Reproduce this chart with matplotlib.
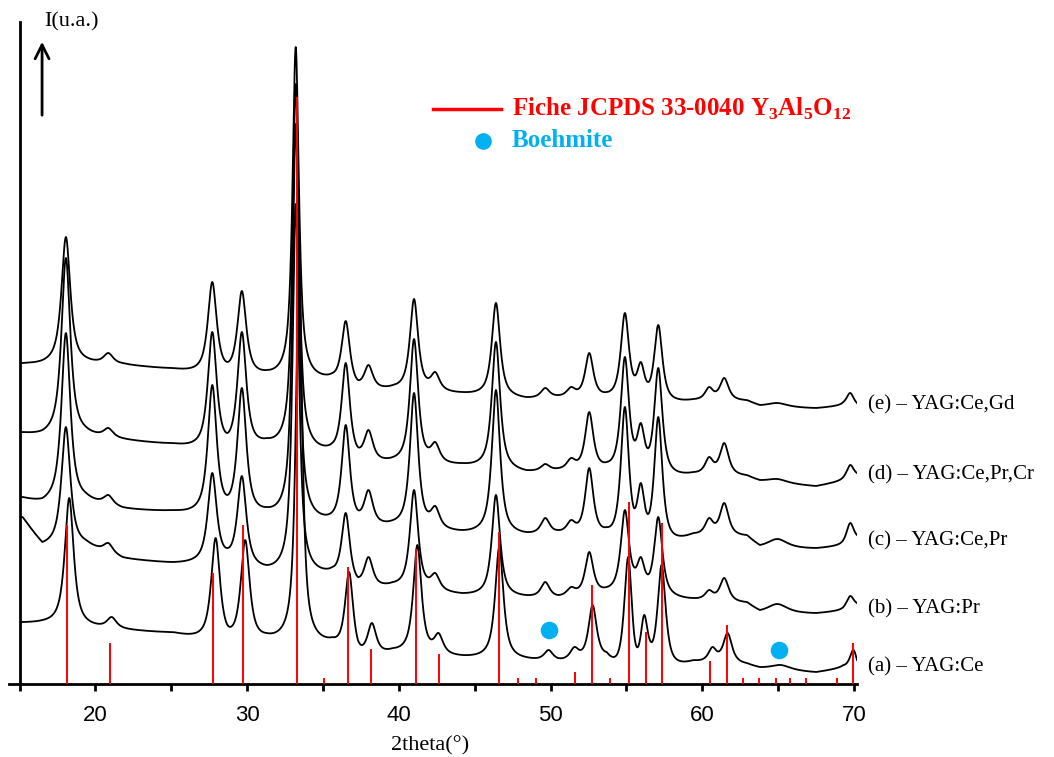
import matplotlib.pyplot as plt
import numpy as np
from matplotlib.ticker import MultipleLocator

# XRD patterns, intensities in arbitrary units (offset curves)
labels = ["(a) – YAG:Ce", "(b) – YAG:Pr", "(c) – YAG:Ce,Pr", "(d) – YAG:Ce,Pr,Cr", "(e) – YAG:Ce,Gd"]
shift = [0.22, 0.0, 0.0, 0.0, 0.0]

# background points (between peaks)
valley_x = [15.2, 16.5, 19.4, 21.8, 25.1, 28.7, 31.3, 35.6, 37.3, 39.6, 44.2, 48.4,
            50.5, 53.7, 55.5, 56.55, 59.4, 62.95, 63.8, 67.5, 69.3, 70.2]
valley_a = [62, 64, 66, 57, 52, 59, 51, 47, 44, 36, 29, 27, 26, 32, 51, 44, 24, 21, 17, 12, 19, 24]
valley_b = [167, 142, 144, 127, 122, 136, 119, 117, 107, 102, 91, 89, 89, 97, 117, 112, 86, 82, 74, 71, 77, 81]
valley_c = [187, 186, 191, 177, 174, 189, 177, 172, 174, 164, 154, 152, 154, 157, 176, 174, 151, 149, 139, 136, 144, 149]
valley_d = [252, 254, 257, 246, 241, 251, 246, 241, 237, 227, 221, 214, 216, 222, 244, 239, 212, 209, 204, 198, 207, 211]
valley_e = [321, 324, 327, 321, 316, 322, 314, 311, 304, 299, 292, 287, 289, 292, 309, 304, 285, 284, 279, 276, 282, 281]

# peak positions, widths and peak-top intensities
peak_x = [18.05, 20.85, 27.7, 29.65, 33.2, 36.5, 38.0, 41.0, 42.4, 46.4, 49.65, 51.35,
          52.55, 54.9, 55.95, 57.1, 60.45, 61.45, 64.95, 69.75]
peak_w = [0.7, 0.75, 0.7, 0.7, 0.5, 0.65, 0.7, 0.65, 0.7, 0.65, 0.7, 0.7,
          0.65, 0.65, 0.6, 0.65, 0.65, 0.7, 1.6, 0.6]
top_a = [186, 67, 146, 144, 426, 112, 61, 139, 51, 137, 34, 37, 79, 127, 69, 119, 37, 51, 19, 34]
top_b = [257, 141, 211, 208, 480, 171, 127, 194, 111, 189, 102, 97, 132, 174, 127, 167, 94, 106, 80, 88]
top_c = [351, 189, 299, 296, 560, 259, 194, 291, 178, 294, 166, 164, 216, 277, 201, 267, 166, 181, 145, 161]
top_d = [426, 256, 352, 352, 600, 321, 254, 345, 242, 342, 220, 226, 272, 327, 261, 316, 227, 241, 205, 219]
top_e = [447, 331, 402, 393, 637, 363, 319, 385, 312, 381, 296, 297, 331, 371, 322, 359, 297, 306, 281, 291]

valleys = [valley_a, valley_b, valley_c, valley_d, valley_e]
tops = [top_a, top_b, top_c, top_d, top_e]

# JCPDS 33-0040 Y3Al5O12 reference lines
jcpds_x = [18.1, 20.95, 27.78, 29.7, 33.26, 35.04, 36.64, 38.15, 41.15, 42.62, 46.58, 47.86,
           49.02, 51.6, 52.76, 53.95, 55.14, 56.28, 57.36, 60.54, 61.6, 62.7, 63.75, 64.83,
           65.78, 66.84, 68.9, 69.95]
jcpds_h = [159, 41, 111, 159, 587, 6, 117, 35, 135, 30, 152, 6, 6, 12, 99, 6, 182, 52, 161,
           23, 59, 6, 6, 6, 6, 6, 6, 41]

boehmite_x = [49.9, 65.05]
boehmite_y = [54, 34]


def profile(x, x0, w, eta=0.85):
    d = 2 * (x - x0) / w
    return eta / (1 + d ** 2) + (1 - eta) * np.exp(-np.log(2) * d ** 2)


def build_curve(xg, vx, vy, px, py, w):
    # background through valley points + peaks, matched to the read points
    vx = np.array(vx)
    px = np.array(px)
    xo = np.concatenate([vx, px])
    yo = np.concatenate([vy, py])
    eye = np.eye(len(vx))
    basis = lambda x: np.array([np.interp(x, vx, eye[j]) for j in range(len(vx))]).T
    peaks = lambda x: np.array([profile(x, px[j], w[j]) for j in range(len(px))]).T
    M = np.hstack([basis(xo), peaks(xo)])
    coef = np.linalg.solve(M, yo)
    return basis(xg) @ coef[:len(vx)] + peaks(xg) @ coef[len(vx):]


plt.rcParams['mathtext.fontset'] = 'custom'
plt.rcParams['mathtext.rm'] = 'Liberation Serif:bold'

fig = plt.figure(figsize=(10.54, 7.57), dpi=100)
ax = fig.add_axes([9 / 1054, 73 / 757, 848 / 1054, 662 / 757])

xg = np.linspace(15.15, 70.2, 4000)
for i in range(5):
    px = np.array(peak_x) + shift[i]
    y = build_curve(xg, valley_x, valleys[i], px, tops[i], peak_w)
    ax.plot(xg, y, color="black", lw=1.3, zorder=2)

ax.vlines(jcpds_x, 0, jcpds_h, color="red", lw=1.4, zorder=3)
ax.scatter(boehmite_x, boehmite_y, s=135, color="#00B0F0", zorder=4)

ax.set_xlim(14.3, 70.2)
ax.set_ylim(0, 662)
ax.spines['top'].set_visible(False)
ax.spines['right'].set_visible(False)
ax.spines['left'].set_position(('data', 15))
ax.spines['left'].set_linewidth(2)
ax.spines['bottom'].set_linewidth(2)
ax.set_yticks([])
ax.xaxis.set_major_locator(MultipleLocator(10))
ax.xaxis.set_minor_locator(MultipleLocator(5))
ax.tick_params(axis='x', which='both', direction='out', length=5, width=2, pad=10)
for t in ax.get_xticklabels():
    t.set_fontfamily('Liberation Sans')
    t.set_fontsize(16)

# curve labels
label_y = [17, 75, 143, 209, 279]
for lab, ly in zip(labels, label_y):
    ax.text(70.92, ly, lab, fontsize=15, family="Liberation Serif", va="center", clip_on=False)

# legend
ax.plot([42.23, 46.72], [575, 575], color="red", lw=2.5, clip_on=False)
ax.text(47.44, 575, r"Fiche JCPDS 33-0040 Y$_{\mathrm{3}}$Al$_{\mathrm{5}}$O$_{\mathrm{12}}$",
        color="red", fontsize=18, family="Liberation Serif", weight="bold", va="center")
ax.scatter([45.53], [543], s=120, color="#00B0F0", clip_on=False)
ax.text(47.44, 543, "Boehmite", color="#00B0F0", fontsize=18, family="Liberation Serif",
        weight="bold", va="center")

# intensity arrow
ax.annotate("", xy=(16.48, 645), xytext=(16.48, 566),
            arrowprops=dict(arrowstyle="->", lw=2, mutation_scale=25, color="black"))
ax.text(16.64, 662, "I(u.a.)", fontsize=16, family="Liberation Serif", va="center", clip_on=False)

fig.text(430 / 1054, 1 - 746 / 757, "2theta(°)", fontsize=16, family="Liberation Serif",
         ha="center", va="center")

fig.savefig("out.png", dpi=100)
